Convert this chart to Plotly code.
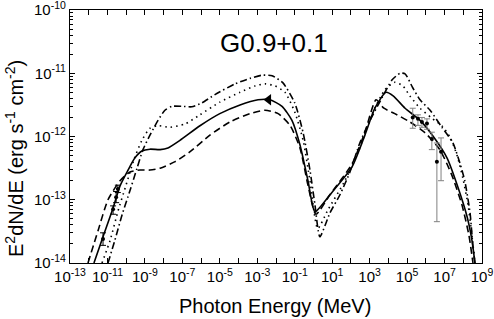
import plotly.graph_objects as go

# ---- model curves (Photon energy in MeV, E^2 dN/dE in erg s^-1 cm^-2) ----
solid_E = [1.9e-12, 5.8e-12, 2.0e-11, 4.7e-11, 1.26e-10, 2.95e-10, 6.9e-10, 1.86e-9, 6.5e-9, 1.7e-8,
           7.4e-8, 8.7e-7, 1.0e-5, 1.2e-4, 1.1e-3, 4.8e-3, 2.1e-2, 7.1e-2, 0.19, 0.51,
           1.2, 7.6, 115, 560, 1.9e3, 7.4e3, 1.8e4, 7.8e4, 4.9e5, 2.4e6,
           1.35e7, 5.2e7, 1.6e8, 2.9e8, 4.2e8]
solid_F = [1.0e-14, 2.6e-14, 7.4e-14, 1.66e-13, 2.95e-13, 4.6e-13, 5.9e-13, 6.3e-13, 6.2e-13, 6.6e-13,
           8.7e-13, 1.48e-12, 2.3e-12, 3.16e-12, 3.8e-12, 3.8e-12, 3.0e-12, 1.8e-12, 7.4e-13, 2.0e-13,
           6.5e-14, 1.2e-13, 3.3e-13, 1.05e-12, 2.8e-12, 5.0e-12, 4.4e-12, 2.8e-12, 1.8e-12, 1.02e-12,
           4.6e-13, 1.58e-13, 5.4e-14, 2.3e-14, 1.0e-14]

dashed_E = [9.1e-13, 3.2e-12, 1.07e-11, 4.7e-11, 1.6e-10, 5.5e-10, 1.86e-9, 6.5e-9, 4.1e-8, 2.6e-7,
            2.95e-6, 3.5e-5, 4.1e-4, 2.6e-3, 1.3e-2, 5.6e-2, 0.19, 0.51, 1.35, 7.6,
            115, 560, 2.2e3, 5.8e3, 2.2e4, 1.4e5, 8.9e5, 5.6e6, 2.45e7, 8.5e7,
            2.0e8, 3.3e8]
dashed_F = [1.0e-14, 3.3e-14, 1.0e-13, 2.0e-13, 2.75e-13, 2.95e-13, 2.95e-13, 3.16e-13, 4.0e-13, 5.75e-13,
            1.05e-12, 1.7e-12, 2.3e-12, 2.6e-12, 2.3e-12, 1.5e-12, 6.6e-13, 1.7e-13, 5.9e-14, 1.2e-13,
            3.7e-13, 1.17e-12, 3.8e-12, 2.8e-12, 2.3e-12, 1.7e-12, 1.15e-12, 6.2e-13, 2.45e-13, 8.3e-14,
            2.75e-14, 1.0e-14]

dotted_E = [5.1e-12, 1.4e-11, 3.6e-11, 9.8e-11, 2.6e-10, 6.9e-10, 1.86e-9, 5.0e-9, 2.2e-8, 1.4e-7,
            8.7e-7, 1.0e-5, 1.2e-4, 7.6e-4, 2.6e-3, 8.9e-3, 3.0e-2, 0.10, 0.28, 0.65,
            1.7, 5.9, 48, 300, 1.3e3, 6.6e3, 2.2e4, 6.0e4, 1.4e5, 4.9e5,
            2.1e6, 7.2e6, 1.95e7, 4.6e7, 9.5e7, 1.8e8, 2.9e8, 4.2e8]
dotted_F = [1.0e-14, 2.3e-14, 6.5e-14, 1.7e-13, 4.3e-13, 8.7e-13, 1.35e-12, 1.48e-12, 1.4e-12, 1.58e-12,
            2.2e-12, 3.5e-12, 5.0e-12, 6.3e-12, 6.8e-12, 6.3e-12, 5.0e-12, 2.45e-12, 8.7e-13, 2.0e-13,
            3.5e-14, 6.9e-14, 2.0e-13, 6.6e-13, 2.2e-12, 5.5e-12, 7.2e-12, 6.3e-12, 4.4e-12, 2.8e-12,
            1.95e-12, 1.48e-12, 9.8e-13, 5.1e-13, 2.2e-13, 8.3e-14, 2.75e-14, 1.0e-14]

dashdot_E = [1.07e-11, 2.5e-11, 6.0e-11, 1.6e-10, 3.8e-10, 7.9e-10, 1.86e-9, 5.0e-9, 1.17e-8, 2.8e-8,
             9.5e-8, 3.2e-7, 1.1e-6, 5.5e-6, 6.5e-5, 4.1e-4, 1.8e-3, 6.2e-3, 2.3e-2, 0.10,
             0.28, 0.65, 1.2, 2.2, 7.6, 26, 89, 300, 1.05e3, 4.6e3,
             1.55e4, 4.2e4, 7.8e4, 2.0e5, 4.9e5, 1.7e6, 7.2e6, 2.8e7, 6.6e7, 1.2e8,
             2.3e8, 3.3e8, 4.2e8]
dashdot_F = [1.0e-14, 2.3e-14, 5.75e-14, 1.4e-13, 3.16e-13, 6.2e-13, 1.05e-12, 1.8e-12, 2.6e-12, 3.0e-12,
             3.0e-12, 2.95e-12, 3.4e-12, 4.6e-12, 6.8e-12, 8.3e-12, 9.3e-12, 9.1e-12, 7.1e-12, 3.4e-12,
             1.15e-12, 2.95e-13, 8.3e-14, 2.6e-14, 6.2e-14, 1.2e-13, 2.75e-13, 7.9e-13, 1.8e-12, 4.1e-12,
             7.8e-12, 1.0e-11, 9.8e-12, 5.9e-12, 3.8e-12, 2.6e-12, 1.4e-12, 7.9e-13, 3.8e-13, 2.0e-13,
             6.2e-14, 1.8e-14, 1.0e-14]

# ---- observed data ----
radio_E = [5.8e-12, 2.0e-11, 2.9e-11, 3.6e-11]
radio_F = [2.4e-14, 7.1e-14, 1.1e-13, 1.48e-13]
radio_hi = [3.0e-14, 8.0e-14, 1.35e-13, 1.7e-13]
radio_lo = [1.9e-14, 5.9e-14, 9.0e-14, 1.3e-13]

xray_E = [4.0e-3]
xray_F = [3.8e-12]

tev_E = [2.0e5, 3.8e5, 6.2e5, 1.15e6, 2.1e6, 3.9e6, 6.5e6]
tev_F = [2.0e-12, 1.9e-12, 1.7e-12, 1.6e-12, 9.1e-13, 4.0e-13, 5.75e-13]
tev_hi = [2.8e-12, 2.2e-12, 2.0e-12, 1.9e-12, 1.17e-12, 7.9e-13, 9.5e-13]
tev_lo = [1.35e-12, 1.5e-12, 1.4e-12, 1.3e-12, 6.2e-13, 4.5e-14, 2.0e-13]

x_exponents = list(range(-13, 10))
y_exponents = [-14, -13, -12, -11, -10]
minor_mantissas = [2, 3, 4, 5, 6, 7, 8, 9]

x_tickvals = [10.0 ** k for k in x_exponents]
x_ticktext = ["10<sup>%d</sup>" % k if k % 2 != 0 else "" for k in x_exponents]
y_tickvals = [10.0 ** k for k in y_exponents]
y_ticktext = ["10<sup>%d</sup>" % k for k in y_exponents]
y_minorvals = [m * 10.0 ** k for k in y_exponents[:-1] for m in minor_mantissas]

FONT = "Liberation Sans, Arial, sans-serif"

fig = go.Figure()
line_w = 1.6
sm = 0.6
fig.add_trace(go.Scatter(x=solid_E, y=solid_F, mode="lines", line=dict(color="black", width=line_w, shape="spline", smoothing=sm)))
fig.add_trace(go.Scatter(x=dashed_E, y=dashed_F, mode="lines", line=dict(color="black", width=line_w, dash="7px,4px", shape="spline", smoothing=sm)))
fig.add_trace(go.Scatter(x=dotted_E, y=dotted_F, mode="lines", line=dict(color="black", width=line_w, dash="1.5px,4px", shape="spline", smoothing=sm)))
fig.add_trace(go.Scatter(x=dashdot_E, y=dashdot_F, mode="lines", line=dict(color="black", width=line_w, dash="7px,3px,1.5px,3px", shape="spline", smoothing=sm)))

fig.add_trace(go.Scatter(
    x=radio_E, y=radio_F, mode="markers",
    marker=dict(color="black", size=4),
    error_y=dict(type="data", symmetric=False,
                 array=[h - f for h, f in zip(radio_hi, radio_F)],
                 arrayminus=[f - l for f, l in zip(radio_F, radio_lo)],
                 color="black", thickness=1, width=3)))
fig.add_trace(go.Scatter(x=xray_E, y=xray_F, mode="markers",
                         marker=dict(color="black", size=10, symbol="triangle-left")))
fig.add_trace(go.Scatter(
    x=tev_E, y=tev_F, mode="markers",
    marker=dict(color="black", size=4),
    error_y=dict(type="data", symmetric=False,
                 array=[h - f for h, f in zip(tev_hi, tev_F)],
                 arrayminus=[f - l for f, l in zip(tev_F, tev_lo)],
                 color="#808080", thickness=1, width=3)))

axis_common = dict(showline=True, linecolor="black", linewidth=1.2, mirror="ticks",
                   ticks="inside", ticklen=5, tickcolor="black", tickwidth=1,
                   showgrid=False, zeroline=False, automargin=False,
                   ticklabeloverflow="allow",
                   tickfont=dict(family=FONT, size=15, color="black"))

fig.update_xaxes(type="log", range=[-13, 9], tickmode="array",
                 tickvals=x_tickvals, ticktext=x_ticktext, **axis_common)
fig.update_yaxes(type="log", range=[-14, -10], tickmode="array",
                 tickvals=y_tickvals, ticktext=y_ticktext,
                 minor=dict(ticks="inside", ticklen=3, tickcolor="black", tickwidth=1,
                            showgrid=False, tickmode="array", tickvals=y_minorvals),
                 **axis_common)

fig.update_layout(
    width=494, height=319,
    margin=dict(l=70, r=12, t=10, b=56, autoexpand=False),
    paper_bgcolor="white", plot_bgcolor="white",
    showlegend=False,
    font=dict(family=FONT, color="black"),
    annotations=[
        dict(text="G0.9+0.1", x=0.495, y=0.87, xref="paper", yref="paper",
             showarrow=False, font=dict(family=FONT, size=26, color="black"),
             xanchor="center", yanchor="middle"),
        dict(text="Photon Energy (MeV)", x=0.497, y=-0.17, xref="paper", yref="paper",
             showarrow=False, font=dict(family=FONT, size=20, color="black"),
             xanchor="center", yanchor="middle"),
        dict(text="E<sup>2</sup>dN/dE (erg s<sup>-1</sup> cm<sup>-2</sup>)", x=-0.136, y=0.415,
             xref="paper", yref="paper", textangle=-90,
             showarrow=False, font=dict(family=FONT, size=20, color="black"),
             xanchor="center", yanchor="middle"),
    ],
)

fig.write_html("out.html", config={"displayModeBar": False},
               post_script="document.body.style.margin='0px';")
